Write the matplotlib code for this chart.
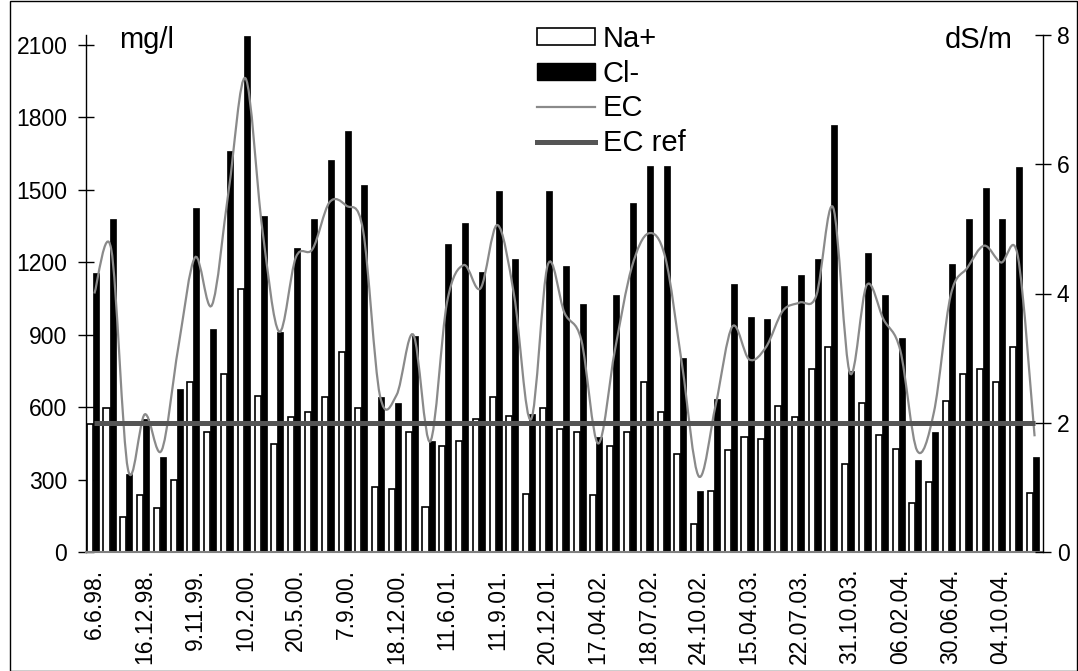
import numpy as np
import matplotlib
matplotlib.use("Agg")
import matplotlib.pyplot as plt
from matplotlib.path import Path
from matplotlib.patches import PathPatch, Rectangle, Patch
from matplotlib.lines import Line2D

plt.rcParams['font.family'] = ['Liberation Sans', 'DejaVu Sans']

# Sampling dates (every third sample is labelled on the axis)
labelled_dates = ["6.6.98.", "16.12.98.", "9.11.99.", "10.2.00.", "20.5.00.",
                  "7.9.00.", "18.12.00.", "11.6.01.", "11.9.01.", "20.12.01.",
                  "17.04.02.", "18.07.02.", "24.10.02.", "15.04.03.", "22.07.03.",
                  "31.10.03.", "06.02.04.", "30.06.04.", "04.10.04."]
label_step = 3

# Sodium (mg/l)
na = [532, 595, 143, 235, 181, 300, 702, 495, 739, 1091,
      645, 449, 560, 580, 642, 830, 596, 271, 261, 496,
      188, 439, 459, 549, 642, 565, 242, 596, 511, 495,
      235, 439, 496, 702, 580, 404, 114, 254, 421, 475,
      466, 606, 559, 756, 849, 364, 618, 485, 428, 204,
      288, 625, 737, 756, 702, 849, 245]

# Chloride (mg/l)
cl = [1155, 1379, 321, 550, 395, 675, 1426, 924, 1662, 2135,
      1391, 913, 1259, 1379, 1622, 1743, 1519, 642, 618, 896,
      461, 1277, 1362, 1158, 1493, 1212, 570, 1493, 1184, 1025,
      475, 1063, 1445, 1597, 1597, 803, 254, 635, 1110, 973,
      963, 1101, 1148, 1212, 1769, 749, 1238, 1063, 887, 382,
      496, 1194, 1379, 1509, 1379, 1593, 392]

# Electrical conductivity (dS/m)
ec = [4.0, 4.69, 1.28, 2.13, 1.57, 3.17, 4.56, 3.82, 5.6, 7.33,
      5.0, 3.41, 4.56, 4.69, 5.41, 5.36, 4.98, 2.43, 2.43, 3.36,
      1.71, 3.86, 4.44, 4.08, 5.06, 3.97, 2.05, 4.44, 3.7, 3.28,
      1.68, 3.12, 4.4, 4.93, 4.56, 2.9, 1.17, 2.27, 3.49, 2.98,
      3.17, 3.73, 3.86, 3.97, 5.33, 2.77, 4.13, 3.6, 3.12, 1.57,
      2.16, 3.97, 4.4, 4.74, 4.48, 4.58, 1.79]

# Reference conductivity (dS/m)
ec_ref = 2.0

n = len(cl)
idx = np.arange(n)
tick_labels = [""] * n
for k, lab in enumerate(labelled_dates):
    tick_labels[k * label_step] = lab

W, H = 1078, 671
fig = plt.figure(figsize=(W / 100, H / 100), dpi=100)
ax = fig.add_axes([86 / W, 1 - 552 / H, (1043 - 86) / W, (552 - 35) / H])
ax2 = ax.twinx()

bw = 0.36
ax.bar(idx + 0.22, na, width=bw, color="white", edgecolor="black",
       linewidth=1.2, zorder=2)
ax.bar(idx + 0.58, cl, width=bw, color="black", edgecolor="black",
       linewidth=0.5, zorder=2)


def smooth_path(x, y):
    """Cubic Bezier path through all points (Catmull-Rom style tangents)."""
    pts = np.column_stack([x, y]).astype(float)
    verts = [pts[0]]
    codes = [Path.MOVETO]
    m = len(pts)
    for i in range(m - 1):
        p0 = pts[i - 1] if i > 0 else pts[i]
        p1 = pts[i]
        p2 = pts[i + 1]
        p3 = pts[i + 2] if i + 2 < m else pts[i + 1]
        c1 = p1 + (p2 - p0) / 6.0
        c2 = p2 - (p3 - p1) / 6.0
        verts += [c1, c2, p2]
        codes += [Path.CURVE4] * 3
    return Path(np.array(verts), codes)


ec_color = "#8a8a8a"
ref_color = "#555555"
ax2.add_patch(PathPatch(smooth_path(idx + 0.5, ec), facecolor="none",
                        edgecolor=ec_color, linewidth=1.6, zorder=3))
ax2.plot(idx + 0.5, np.full(n, ec_ref), color=ref_color, linewidth=3.6,
         solid_capstyle="butt", zorder=4)

ax.set_xlim(0, n)
ax.set_ylim(0, 2141)
ax2.set_ylim(0, 8)
ax.set_yticks(np.arange(0, 2101, 300))
ax2.set_yticks([0, 2, 4, 6, 8])
ax.set_xticks(idx + 0.5)
ax.set_xticklabels(tick_labels, rotation=90, fontsize=16.5, va="top")

ax.tick_params(axis="x", length=0, pad=12)
ax.tick_params(axis="y", direction="inout", length=12, width=1,
               labelsize=16.5, pad=7.5)
ax2.tick_params(axis="y", direction="inout", length=12, width=1,
                labelsize=16.5, pad=4)

for a in (ax, ax2):
    a.spines["top"].set_visible(False)
    a.patch.set_visible(False)
ax.spines["right"].set_visible(False)
ax2.spines["left"].set_visible(False)
ax2.spines["bottom"].set_visible(False)
ax.spines["bottom"].set_color("#808080")
ax.spines["bottom"].set_linewidth(1.5)
ax.spines["left"].set_linewidth(1.0)
ax2.spines["right"].set_linewidth(1.0)

fig.text(119 / W, 1 - 48 / H, "mg/l", fontsize=21, va="baseline", ha="left")
fig.text(1013 / W, 1 - 48 / H, "dS/m", fontsize=21, va="baseline", ha="right")

handles = [Patch(facecolor="white", edgecolor="black", linewidth=1.2),
           Patch(facecolor="black", edgecolor="black"),
           Line2D([], [], color=ec_color, linewidth=1.6),
           Line2D([], [], color=ref_color, linewidth=3.6)]
labels = ["Na+", "Cl-", "EC", "EC ref"]
fig.legend(handles, labels, loc="upper left",
           bbox_to_anchor=(537 / W, 1 - 25 / H), frameon=False, fontsize=21,
           borderpad=0, borderaxespad=0, handlelength=2.0, handleheight=0.55,
           handletextpad=0.25, labelspacing=0.23)

fig.add_artist(Rectangle((9.5 / W, 0.5 / H), (1077 - 9.5) / W, (670 - 0.5) / H,
                         transform=fig.transFigure, fill=False,
                         edgecolor="black", linewidth=1.0))

fig.savefig("out.png", dpi=100)
